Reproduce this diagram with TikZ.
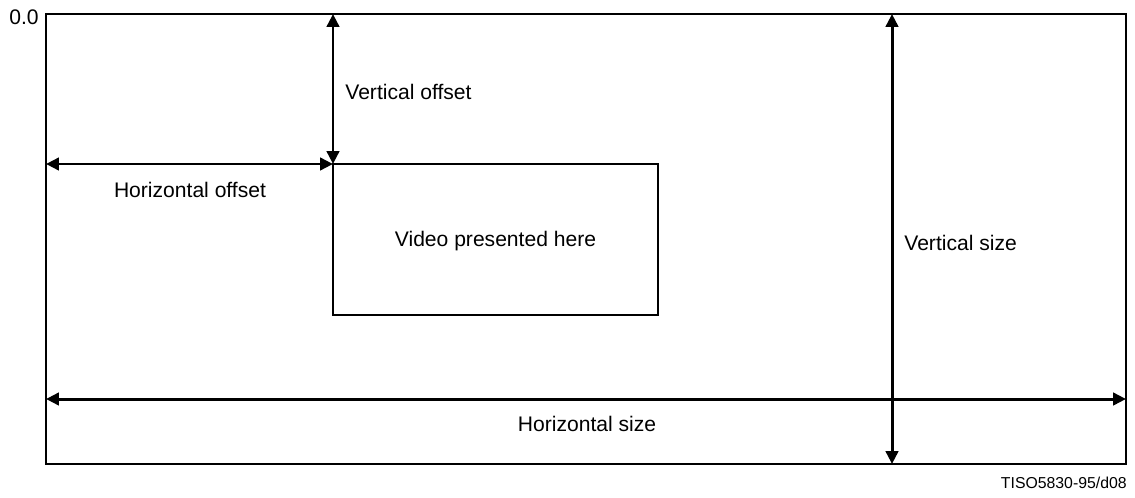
\documentclass[tikz,border=0pt]{standalone}
\usepackage{fontspec}
\setmainfont{Liberation Sans}
\usetikzlibrary{arrows.meta}

\tikzset{
  dimarrow/.style={line width=1.7pt, {Triangle[length=0.26cm,width=0.25cm]}-{Triangle[length=0.26cm,width=0.25cm]}},
  frame/.style={draw, line width=0.75pt},
  lbl/.style={font=\fontsize{12}{14}\selectfont, inner sep=0pt},
}

\begin{document}
\begin{tikzpicture}[x=0.02cm, y=-0.02cm]
\useasboundingbox (0,0) rectangle (1135,497);

% outer frame and video window
\coordinate (tl) at (46,14);
\coordinate (br) at (1126,464);
\draw[frame] (tl) rectangle (br);
\coordinate (vtl) at (333,164);
\coordinate (vbr) at (658,315);
\draw[frame] (vtl) rectangle (vbr);

% arrow end points
\coordinate (vofftop) at (vtl |- tl);
\coordinate (hoffleft) at (tl |- vtl);
\coordinate (vstop) at (892,14);
\coordinate (vsbot) at (892,464);
\coordinate (hsleft) at (46,399);
\coordinate (hsright) at (1126,399);

\draw[dimarrow] (vofftop) -- (vtl);
\draw[dimarrow] (hoffleft) -- (vtl);
\draw[dimarrow] (vstop) -- (vsbot);
\draw[dimarrow] (hsleft) -- (hsright);

% labels
\node[lbl, anchor=east] (origin) at (39,17) {0.0};
\node[lbl, anchor=west] (vofflbl) at (345,92) {Vertical offset};
\node[lbl] (hofflbl) at (190,190) {Horizontal offset};
\node[lbl] (video) at (495.5,241) {Video presented here};
\node[lbl, anchor=west] (vslbl) at (904,243) {Vertical size};
\node[lbl] (hslbl) at (587,424) {Horizontal size};
\node[font=\fontsize{9}{11}\selectfont, inner sep=0pt, anchor=east] (tag) at (1127,483) {TISO5830-95/d08};

\end{tikzpicture}
\end{document}
